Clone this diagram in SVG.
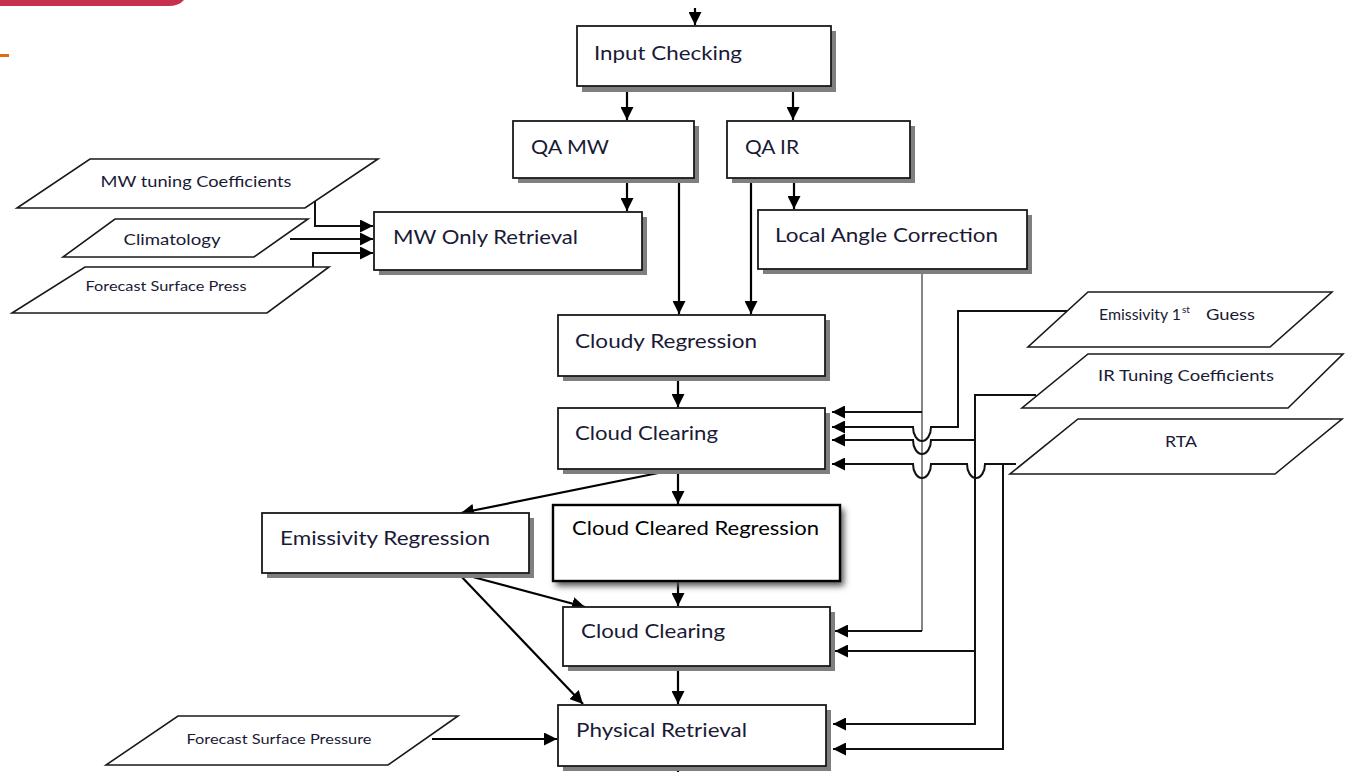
<svg xmlns="http://www.w3.org/2000/svg" width="1345" height="772" viewBox="0 0 1345 772">
<style>
.box{fill:#fff;stroke:#1a1a1a;stroke-width:1.8}
.sh{fill:#7f7f7f}
.para{fill:#fff;stroke:#1a1a1a;stroke-width:1.6}
.t{font-family:Lato,"Liberation Sans",sans-serif;font-size:20px;fill:#1a1a36}
.ts{font-family:Lato,"Liberation Sans",sans-serif;font-size:16px;fill:#1a1a36}
.tx{font-family:Lato,"Liberation Sans",sans-serif;font-size:14px;fill:#1a1a36}
.c{fill:none;stroke:#000;stroke-width:2.2}
.w{fill:none;stroke:#111;stroke-width:2}
.g{fill:none;stroke:#858585;stroke-width:2}
</style>
<defs>
<marker id="ah" viewBox="0 0 12 12" refX="12" refY="6" markerWidth="13" markerHeight="13" markerUnits="userSpaceOnUse" orient="auto"><path d="M0,0 L12,6 L0,12 Z" fill="#000"/></marker>
<filter id="blur" x="-10%" y="-10%" width="130%" height="140%"><feGaussianBlur stdDeviation="3"/></filter>
</defs>
<rect width="1345" height="772" fill="#fff"/>
<path d="M0,0 H184 Q179,6 168,6 H0 Z" fill="#c6304c"/>
<rect x="0" y="54" width="9" height="3" fill="#e36c0a"/>

<g id="connectors">
<path class="c" d="M695,8 V25" marker-end="url(#ah)"/>
<path class="c" d="M627,86 V120" marker-end="url(#ah)"/>
<path class="c" d="M793,86 V120" marker-end="url(#ah)"/>
<path class="c" d="M627,178 V211" marker-end="url(#ah)"/>
<path class="c" d="M679,178 V314" marker-end="url(#ah)"/>
<path class="c" d="M751,178 V314" marker-end="url(#ah)"/>
<path class="c" d="M794,178 V209" marker-end="url(#ah)"/>
<path class="w" d="M315,198 V226 H373" marker-end="url(#ah)"/>
<path class="w" d="M290,239 H373" marker-end="url(#ah)"/>
<path class="w" d="M313,267 V253 H373" marker-end="url(#ah)"/>
<path class="c" d="M678,376 V407" marker-end="url(#ah)"/>
<path class="c" d="M678,469 V504" marker-end="url(#ah)"/>
<path class="c" d="M678,469 L461,513" marker-end="url(#ah)"/>
<path class="c" d="M678,581 V606" marker-end="url(#ah)"/>
<path class="c" d="M458,573 L585,607" marker-end="url(#ah)"/>
<path class="c" d="M458,573 L583,704" marker-end="url(#ah)"/>
<path class="c" d="M678,666 V704" marker-end="url(#ah)"/>
<path class="c" d="M432,739 H557" marker-end="url(#ah)"/>
<path class="c" d="M678,755 V772"/>
<path class="g" d="M922,269 V631"/>
<path class="w" d="M922,412 H832" marker-end="url(#ah)"/>
<path class="w" d="M922,631 H835" marker-end="url(#ah)"/>
<path class="w" d="M1067,311 H958 V427 H931 A9,14 0 0 1 913,427 H832" marker-end="url(#ah)"/>
<path class="w" d="M1036,395 H975 V724 H833" marker-end="url(#ah)"/>
<path class="w" d="M975,440 H931 A9,14 0 0 1 913,440 H832" marker-end="url(#ah)"/>
<path class="w" d="M975,651 H835" marker-end="url(#ah)"/>
<path class="w" d="M1016,464 H985 A9,14 0 0 1 967,464 H931 A9,14 0 0 1 913,464 H832" marker-end="url(#ah)"/>
<path class="w" d="M1003,464 V749 H833" marker-end="url(#ah)"/>
</g>

<g id="input-checking"><rect class="sh" x="582" y="31" width="254" height="61"/><rect class="box" x="577" y="26" width="254" height="60"/><text class="t" x="594" y="60" textLength="148" lengthAdjust="spacingAndGlyphs">Input Checking</text></g>
<g id="qa-mw"><rect class="sh" x="518" y="126" width="181" height="57"/><rect class="box" x="513" y="121" width="181" height="57"/><text class="t" x="531" y="154" textLength="78" lengthAdjust="spacingAndGlyphs">QA MW</text></g>
<g id="qa-ir"><rect class="sh" x="732" y="126" width="183" height="57"/><rect class="box" x="727" y="121" width="183" height="57"/><text class="t" x="745" y="154" textLength="54" lengthAdjust="spacingAndGlyphs">QA IR</text></g>
<g id="mw-only-retrieval"><rect class="sh" x="379" y="217" width="268" height="58"/><rect class="box" x="374" y="212" width="268" height="58"/><text class="t" x="393" y="244" textLength="185" lengthAdjust="spacingAndGlyphs">MW Only Retrieval</text></g>
<g id="local-angle-correction"><rect class="sh" x="763" y="215" width="269" height="59"/><rect class="box" x="758" y="210" width="269" height="59"/><text class="t" x="775" y="242" textLength="223" lengthAdjust="spacingAndGlyphs">Local Angle Correction</text></g>
<g id="cloudy-regression"><rect class="sh" x="563" y="320" width="267" height="61"/><rect class="box" x="558" y="315" width="267" height="61"/><text class="t" x="575" y="348" textLength="182" lengthAdjust="spacingAndGlyphs">Cloudy Regression</text></g>
<g id="cloud-clearing-1"><rect class="sh" x="563" y="413" width="267" height="61"/><rect class="box" x="558" y="408" width="267" height="61"/><text class="t" x="575" y="440" textLength="143" lengthAdjust="spacingAndGlyphs">Cloud Clearing</text></g>
<g id="emissivity-regression"><rect class="sh" x="267" y="518" width="267" height="60"/><rect class="box" x="262" y="513" width="267" height="60"/><text class="t" x="280" y="545" textLength="210" lengthAdjust="spacingAndGlyphs">Emissivity Regression</text></g>
<g id="cloud-cleared-regression"><rect x="556" y="509" width="288" height="77" fill="#555" filter="url(#blur)"/><rect x="553" y="505" width="287" height="76" fill="#fff" stroke="#000" stroke-width="2.4"/><text x="572" y="535" font-family="Lato,'Liberation Sans',sans-serif" font-size="19" fill="#000" textLength="247" lengthAdjust="spacingAndGlyphs">Cloud Cleared Regression</text></g>
<g id="cloud-clearing-2"><rect class="sh" x="568" y="612" width="267" height="59"/><rect class="box" x="563" y="607" width="267" height="59"/><text class="t" x="581" y="638" textLength="144" lengthAdjust="spacingAndGlyphs">Cloud Clearing</text></g>
<g id="physical-retrieval"><rect class="sh" x="563" y="710" width="268" height="61"/><rect class="box" x="558" y="705" width="268" height="61"/><text class="t" x="576" y="737" textLength="171" lengthAdjust="spacingAndGlyphs">Physical Retrieval</text></g>

<g id="mw-tuning-coefficients"><polygon class="para" points="90,159 378,159 305,208 17,208"/><text class="ts" x="196" y="187" text-anchor="middle" textLength="191" lengthAdjust="spacingAndGlyphs">MW tuning Coefficients</text></g>
<g id="climatology"><polygon class="para" points="115,219 308,219 254,257 63,257"/><text class="ts" x="172" y="245" text-anchor="middle" textLength="97" lengthAdjust="spacingAndGlyphs">Climatology</text></g>
<g id="forecast-surface-press"><polygon class="para" points="85,267 329,267 267,313 12,313"/><text class="tx" x="166" y="291" text-anchor="middle" textLength="161" lengthAdjust="spacingAndGlyphs">Forecast Surface Press</text></g>
<g id="emissivity-1st-guess"><polygon class="para" points="1088,292 1332,292 1270,347 1028,347"/><text class="ts" x="1099" y="320" font-size="16"><tspan x="1099" textLength="82" lengthAdjust="spacingAndGlyphs">Emissivity 1</tspan><tspan x="1182" y="313" font-size="10">st</tspan><tspan x="1206" y="320" textLength="49" lengthAdjust="spacingAndGlyphs">Guess</tspan></text></g>
<g id="ir-tuning-coefficients"><polygon class="para" points="1088,354 1343,354 1288,408 1022,408"/><text class="ts" x="1098" y="381" textLength="176" lengthAdjust="spacingAndGlyphs">IR Tuning Coefficients</text></g>
<g id="rta"><polygon class="para" points="1078,419 1342,419 1275,474 1010,474"/><text class="ts" x="1181" y="447" text-anchor="middle" textLength="32" lengthAdjust="spacingAndGlyphs">RTA</text></g>
<g id="forecast-surface-pressure"><polygon class="para" points="178,716 458,716 388,765 106,765"/><text class="tx" x="279" y="744" text-anchor="middle" textLength="185" lengthAdjust="spacingAndGlyphs">Forecast Surface Pressure</text></g>
</svg>
